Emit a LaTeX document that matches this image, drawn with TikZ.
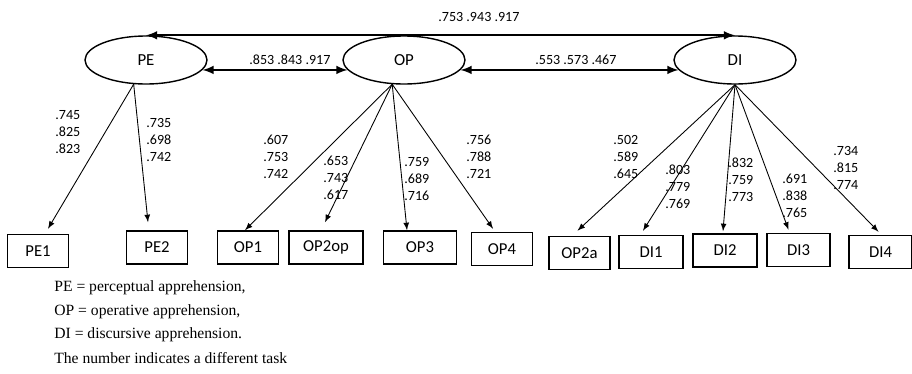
\documentclass[tikz,border=0pt]{standalone}
\usepackage{fontspec}
\setmainfont{Liberation Serif}
\newfontfamily\calibri{Carlito}
\usepackage{tikz}
\usetikzlibrary{shapes.geometric, arrows, positioning, calc}

\begin{document}
\begin{tikzpicture}[
    x=0.02cm, y=-0.02cm,
    latent/.style={draw, ellipse, line width=0.8pt, minimum width=2.44cm, minimum height=0.96cm, inner sep=0pt, font=\calibri\fontsize{9.6}{11}\selectfont},
    indic/.style={draw, rectangle, line width=0.9pt, minimum width=1.22cm, minimum height=0.66cm, inner sep=1pt, font=\calibri\fontsize{9.5}{11}\selectfont},
    corr/.style={line width=1.2pt, <->, >=latex},
    load/.style={line width=0.5pt, ->, >=latex},
    coef/.style={font=\calibri\fontsize{8}{9.6}\selectfont, align=left, anchor=west, inner sep=0pt},
    legend/.style={font=\fontsize{8.9}{10}\selectfont, anchor=west, inner sep=0pt}
]
\useasboundingbox (0,0) rectangle (912,373);

% latent factors
\node[latent] (PE) at (146,60) {PE};
\node[latent] (OP) at (404,60) {OP};
\node[latent] (DI) at (735,60) {DI};

% indicators
\node[indic] (PE1) at (38,251) {PE1};
\node[indic] (PE2) at (157,247.5) {PE2};
\node[indic] (OP1) at (248,247.5) {OP1};
\node[indic, minimum width=1.48cm] (OP2op) at (326,247.5) {OP2op};
\node[indic, minimum width=1.46cm] (OP3) at (420,247.5) {OP3};
\node[indic] (OP4) at (502,249) {OP4};
\node[indic] (OP2a) at (579.5,253) {OP2a};
\node[indic, minimum width=1.28cm] (DI1) at (651,252) {DI1};
\node[indic, minimum width=1.28cm] (DI2) at (725,250.5) {DI2};
\node[indic, minimum width=1.26cm] (DI3) at (798.5,250) {DI3};
\node[indic, minimum width=1.26cm] (DI4) at (880.5,252) {DI4};

% correlations
\draw[corr] (PE.north) -- (DI.north);
\draw[corr] (PE.-10) -- (OP.190);
\draw[corr] (OP.-10) -- (DI.190);
\node[coef] (cPEDI) at (438,17) {.753 .943 .917};
\node[coef] (cPEOP) at (249,60) {.853 .843 .917};
\node[coef] (cOPDI) at (535,60) {.553 .573 .467};

% loadings
\draw[load] (PE.243) -- ($(PE1.north)+(10,-5)$);
\draw[load] (PE.243) -- ($(PE2.north)+(-9,-8)$);
\draw[load] (OP.244) -- ($(OP1.north)+(-3,0)$);
\draw[load] (OP.244) -- ($(OP2op.north)+(-1,-8)$);
\draw[load] (OP.244) -- ($(OP3.north)+(-13,0)$);
\draw[load] (OP.244) -- ($(OP4.north)+(-9,-3)$);
\draw[load] (DI.south) -- ($(OP2a.north)+(-2,-5)$);
\draw[load] (DI.south) -- ($(DI1.north)+(-8,-4)$);
\draw[load] (DI.south) -- ($(DI2.north)+(-2,-2)$);
\draw[load] (DI.south) -- ($(DI3.north)+(-10,-3)$);
\draw[load] (DI.south) -- ($(DI4.north)+(-2,-3)$);

\node[coef] (lPE1) at (55,132) {.745\\.825\\.823};
\node[coef] (lPE2) at (146,140) {.735\\.698\\.742};
\node[coef] (lOP1) at (263,157) {.607\\.753\\.742};
\node[coef] (lOP2op) at (323,178) {.653\\.743\\.617};
\node[coef] (lOP3) at (404,179) {.759\\.689\\.716};
\node[coef] (lOP4) at (466,157) {.756\\.788\\.721};
\node[coef] (lOP2a) at (613,157) {.502\\.589\\.645};
\node[coef] (lDI1) at (665,187) {.803\\.779\\.769};
\node[coef] (lDI2) at (728,180) {.832\\.759\\.773};
\node[coef] (lDI3) at (782,196) {.691\\.838\\.765};
\node[coef] (lDI4) at (833,168) {.734\\.815\\.774};

% legend
\node[legend] (leg1) at (54,288) {PE = perceptual apprehension,};
\node[legend] (leg2) at (54,312) {OP = operative apprehension,};
\node[legend] (leg3) at (54,335) {DI = discursive apprehension.};
\node[legend] (leg4) at (54,358) {The number indicates a different task};

\end{tikzpicture}
\end{document}
